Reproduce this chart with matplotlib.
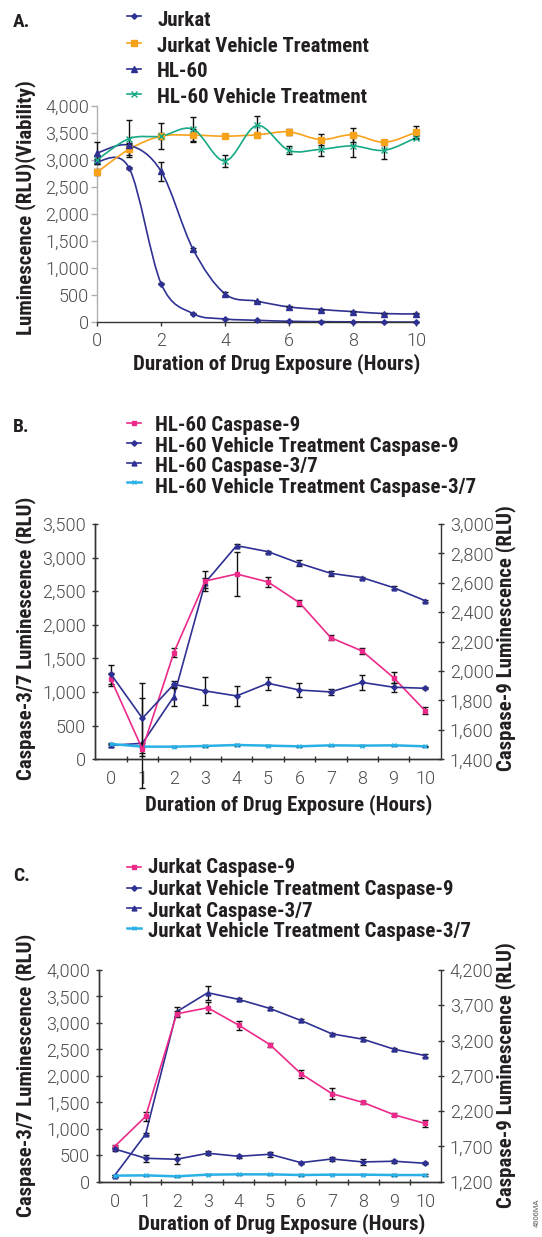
import matplotlib
matplotlib.use("Agg")
import matplotlib.pyplot as plt
from matplotlib.path import Path
from matplotlib.patches import PathPatch
from matplotlib.lines import Line2D
from matplotlib.ticker import FixedLocator, FuncFormatter

# ---------------- data ----------------
hours = list(range(11))

# Panel A (viability, RLU)
a_labels = ["Jurkat", "Jurkat Vehicle Treatment", "HL-60", "HL-60 Vehicle Treatment"]
a_jurkat = [2975, 2850, 715, 160, 62, 37, 19, 12, 8, 5, 4]
a_jurkat_err = [40, 20, 15, 10, 5, 5, 5, 5, 5, 5, 5]
a_jurkat_veh = [2778, 3200, 3442, 3460, 3442, 3467, 3522, 3380, 3467, 3330, 3516]
a_jurkat_veh_err = [60, 100, 240, 120, 20, 20, 60, 110, 135, 50, 110]
a_hl60 = [3132, 3274, 2791, 1352, 527, 391, 285, 236, 198, 161, 155]
a_hl60_err = [200, 50, 170, 30, 30, 10, 10, 10, 10, 10, 10]
a_hl60_veh = [3008, 3398, 3442, 3572, 2983, 3640, 3181, 3200, 3262, 3181, 3417]
a_hl60_veh_err = [60, 350, 60, 220, 115, 175, 75, 130, 200, 160, 30]
a_xticks = [0, 2, 4, 6, 8, 10]
a_yticks = [0, 500, 1000, 1500, 2000, 2500, 3000, 3500, 4000]

# Panel B (HL-60 caspases)
b_labels = ["HL-60 Caspase-9", "HL-60 Vehicle Treatment Caspase-9",
            "HL-60 Caspase-3/7", "HL-60 Vehicle Treatment Caspase-3/7"]
b_casp9 = [1944, 1468, 2125, 2612, 2660, 2606, 2465, 2227, 2136, 1955, 1731]
b_casp9_err = [45, 45, 30, 68, 148, 32, 20, 18, 18, 39, 23]
b_veh_casp9 = [1978, 1679, 1910, 1865, 1831, 1917, 1871, 1858, 1923, 1890, 1883]
b_veh_casp9_err = [64, 238, 23, 96, 66, 45, 50, 18, 50, 32, 7]
b_casp37 = [208, 238, 932, 2628, 3178, 3089, 2915, 2766, 2702, 2553, 2360]
b_casp37_err = [25, 670, 139, 75, 20, 15, 45, 40, 15, 25, 15]
b_veh_casp37 = [228, 188, 188, 198, 213, 203, 193, 208, 203, 208, 193]
b_veh_casp37_err = [15, 10, 10, 10, 10, 10, 10, 10, 10, 10, 10]
b_left_ticks = [0, 500, 1000, 1500, 2000, 2500, 3000, 3500]
b_right_ticks = [1400, 1600, 1800, 2000, 2200, 2400, 2600, 2800, 3000]

# Panel C (Jurkat caspases)
c_labels = ["Jurkat Caspase-9", "Jurkat Vehicle Treatment Caspase-9",
            "Jurkat Caspase-3/7", "Jurkat Vehicle Treatment Caspase-3/7"]
c_casp9 = [1698, 2124, 3579, 3665, 3418, 3143, 2731, 2447, 2323, 2148, 2025]
c_casp9_err = [24, 66, 47, 76, 62, 28, 57, 76, 24, 19, 52]
c_veh_casp9 = [1665, 1532, 1518, 1603, 1560, 1589, 1470, 1522, 1480, 1490, 1461]
c_veh_casp9_err = [24, 47, 71, 28, 19, 38, 14, 33, 43, 19, 14]
c_casp37 = [114, 897, 3211, 3571, 3444, 3274, 3046, 2793, 2692, 2503, 2383]
c_casp37_err = [19, 19, 88, 130, 25, 25, 25, 25, 38, 25, 25]
c_veh_casp37 = [114, 120, 101, 133, 139, 139, 126, 133, 133, 126, 126]
c_veh_casp37_err = [19, 15, 15, 15, 15, 15, 15, 15, 15, 15, 15]
c_left_ticks = [0, 500, 1000, 1500, 2000, 2500, 3000, 3500, 4000]
c_right_ticks = [1200, 1700, 2200, 2700, 3200, 3700, 4200]

xlabel_text = "Duration of Drug Exposure (Hours)"

# ---------------- style ----------------
NAVY = "#2e3192"
ORANGE = "#f7a21b"
TEAL = "#17a985"
PINK = "#ec2a8a"
CYAN = "#29b0e6"
TICKC = "#4a4a4a"
SPINEC = "#333333"

plt.rcParams["font.family"] = ["Roboto", "DejaVu Sans"]
plt.rcParams["font.weight"] = 300
BOLD = dict(family=["Roboto Condensed", "DejaVu Sans"], weight="bold", color="#231f20")
LAB_FS = 15
TICK_FS = 13

W, H = 542, 1237
fig = plt.figure(figsize=(W / 100, H / 100), dpi=100)


def fx(px):
    return px / W


def fy(py):
    return 1 - py / H


def axes_px(l, t, r, b):
    return fig.add_axes([fx(l), fy(b), (r - l) / W, (b - t) / H])


comma = FuncFormatter(lambda v, p: f"{v:,.0f}")


def smooth_path(xs, ys):
    pts = list(zip(xs, ys))
    verts = [pts[0]]
    codes = [Path.MOVETO]
    n = len(pts)
    for i in range(n - 1):
        p0 = pts[i - 1] if i > 0 else pts[i]
        p1 = pts[i]
        p2 = pts[i + 1]
        p3 = pts[i + 2] if i + 2 < n else pts[i + 1]
        c1 = (p1[0] + (p2[0] - p0[0]) / 6, p1[1] + (p2[1] - p0[1]) / 6)
        c2 = (p2[0] - (p3[0] - p1[0]) / 6, p2[1] - (p3[1] - p1[1]) / 6)
        verts += [c1, c2, p2]
        codes += [Path.CURVE4, Path.CURVE4, Path.CURVE4]
    return Path(verts, codes)


def legend_row(y_handle, y_base, x0, x1, xt, color, marker, label, ms=3.5, lw=1.2):
    fig.add_artist(Line2D([fx(x0), fx(x1)], [fy(y_handle)] * 2, transform=fig.transFigure,
                          color=color, lw=lw))
    fig.add_artist(Line2D([fx((x0 + x1) / 2)], [fy(y_handle)], transform=fig.transFigure,
                          color=color, marker=marker, ms=ms, ls="none", mew=1.0))
    fig.text(fx(xt), fy(y_base), label, ha="left", va="baseline", fontsize=LAB_FS, **BOLD)


def style_spines(ax, left_color=SPINEC, right=False):
    for s in ["top"] + ([] if right else ["right"]):
        ax.spines[s].set_visible(False)
    ax.spines["left"].set_color(left_color)
    ax.spines["bottom"].set_color(SPINEC)
    for s in ax.spines.values():
        s.set_linewidth(1.0)


ERR = dict(fmt="none", ecolor="#111111", elinewidth=1.0, capsize=2.2, capthick=1.0)

# ================= Panel A =================
axA = axes_px(97.3, 106, 418, 322.3)
axA.set_xlim(0, 10.05)
axA.set_ylim(0, 4000)
style_spines(axA, left_color="#b0b0b0")
axA.xaxis.set_major_locator(FixedLocator(a_xticks))
axA.yaxis.set_major_locator(FixedLocator(a_yticks))
axA.yaxis.set_major_formatter(comma)
axA.tick_params(axis="y", direction="out", length=4, width=1, color="#b0b0b0",
                labelsize=TICK_FS, labelcolor=TICKC, pad=2)
axA.tick_params(axis="x", direction="out", length=3, width=1, color=SPINEC,
                labelsize=TICK_FS, labelcolor=TICKC, pad=4)

a_series = [
    (a_jurkat, a_jurkat_err, NAVY, "D", 2.8),
    (a_jurkat_veh, a_jurkat_veh_err, ORANGE, "s", 3.8),
    (a_hl60, a_hl60_err, NAVY, "^", 3.8),
    (a_hl60_veh, a_hl60_veh_err, TEAL, "x", 3.8),
]
for vals, err, col, mk, ms in a_series:
    axA.add_patch(PathPatch(smooth_path(hours, vals), facecolor="none", edgecolor=col, lw=1.2,
                            zorder=2))
    axA.errorbar(hours, vals, yerr=err, zorder=3, clip_on=False, **ERR)
    axA.plot(hours, vals, ls="none", marker=mk, ms=ms, color=col, mew=1.0, zorder=4,
             clip_on=False)

axA.set_xlabel(xlabel_text, fontsize=LAB_FS, **BOLD)
axA.xaxis.set_label_coords(fx(277), fy(364), transform=fig.transFigure)
axA.xaxis.label.set_va("center")
axA.set_ylabel("Luminescence (RLU)(Viability)", fontsize=LAB_FS, **BOLD)
axA.yaxis.set_label_coords(fx(25.5), fy(208), transform=fig.transFigure)
axA.yaxis.label.set_va("center")

fig.text(fx(13), fy(26.7), "A.", ha="left", va="baseline", fontsize=14, **BOLD)
a_hy = [15.7, 43.3, 69.3, 94.3]
a_by = [26, 51.7, 77.3, 102.7]
for (vals, err, col, mk, ms), lab, yh, yb in zip(a_series, a_labels, a_hy, a_by):
    legend_row(yh, yb, 127, 141, 157, col, mk, lab, ms=ms)


# ================= Panels B and C =================
def caspase_panel(box, left_lim, right_lim, left_ticks, right_ticks, series, labels,
                  letter, letter_base, hy, by, xt, xlab_pos, ylab_y, tick_off):
    ax = axes_px(*box)
    ax2 = ax.twinx()
    ax.set_xlim(-0.5, 10.5)
    ax.set_ylim(*left_lim)
    ax2.set_ylim(*right_lim)
    style_spines(ax)
    style_spines(ax2, right=True)
    ax2.spines["right"].set_color(SPINEC)
    ax2.spines["right"].set_linewidth(1.0)
    ax.set_xticks(hours)
    ax.set_xticks([h + tick_off for h in hours[:-1]], minor=True)
    ax.tick_params(axis="x", which="major", length=0, labelsize=TICK_FS, labelcolor=TICKC,
                   pad=8)
    ax.tick_params(axis="x", which="minor", direction="inout", length=5, width=1,
                   color=SPINEC)
    ax.yaxis.set_major_locator(FixedLocator(left_ticks))
    ax.yaxis.set_major_formatter(comma)
    ax.tick_params(axis="y", direction="inout", length=5, width=1, color=SPINEC,
                   labelsize=TICK_FS, labelcolor=TICKC, pad=4)
    ax2.yaxis.set_major_locator(FixedLocator(right_ticks))
    ax2.yaxis.set_major_formatter(comma)
    ax2.tick_params(axis="y", direction="inout", length=5, width=1, color=SPINEC,
                    labelsize=TICK_FS, labelcolor=TICKC, pad=4)

    for (vals, err, col, mk, ms, lw, side) in series:
        target = ax2 if side == "right" else ax
        target.errorbar(hours, vals, yerr=err, zorder=3, clip_on=False, **ERR)
        target.plot(hours, vals, color=col, marker=mk, ms=ms, lw=lw, mew=1.0, zorder=4,
                    clip_on=False)

    ax.set_xlabel(xlabel_text, fontsize=LAB_FS, **BOLD)
    ax.xaxis.set_label_coords(fx(xlab_pos[0]), fy(xlab_pos[1]), transform=fig.transFigure)
    ax.xaxis.label.set_va("center")
    ax.set_ylabel("Caspase-3/7 Luminescence (RLU)", fontsize=LAB_FS, **BOLD)
    ax.yaxis.set_label_coords(fx(25.5), fy(ylab_y), transform=fig.transFigure)
    ax.yaxis.label.set_va("center")
    ax2.set_ylabel("Caspase-9 Luminescence (RLU)", fontsize=LAB_FS, rotation=90, **BOLD)
    ax2.yaxis.set_label_coords(fx(506), fy(ylab_y), transform=fig.transFigure)
    ax2.yaxis.label.set_va("center")

    fig.text(fx(13), fy(letter_base), letter, ha="left", va="baseline", fontsize=14, **BOLD)
    for (vals, err, col, mk, ms, lw, side), lab, yh, yb in zip(series, labels, hy, by):
        legend_row(yh, yb, 127, 141, xt, col, mk, lab, ms=ms, lw=lw)
    return ax, ax2


b_series = [
    (b_casp9, b_casp9_err, PINK, "s", 3.5, 1.2, "right"),
    (b_veh_casp9, b_veh_casp9_err, NAVY, "D", 2.8, 1.2, "right"),
    (b_casp37, b_casp37_err, NAVY, "^", 3.5, 1.2, "left"),
    (b_veh_casp37, b_veh_casp37_err, CYAN, "x", 3.5, 1.8, "left"),
]
caspase_panel((95.3, 524, 440.7, 759.3), (0, 3500), (1400, 3000), b_left_ticks, b_right_ticks,
              b_series, b_labels, "B.", 431.7,
              [423.3, 443.3, 462.7, 481.7], [430.7, 451.7, 471.7, 492.7], 155,
              (289, 805), 638, 0.5)

c_series = [
    (c_casp9, c_casp9_err, PINK, "s", 3.5, 1.2, "right"),
    (c_veh_casp9, c_veh_casp9_err, NAVY, "D", 2.8, 1.2, "right"),
    (c_casp37, c_casp37_err, NAVY, "^", 3.5, 1.2, "left"),
    (c_veh_casp37, c_veh_casp37_err, CYAN, "x", 3.5, 1.8, "left"),
]
caspase_panel((99, 970, 440.7, 1181.7), (0, 4000), (1200, 4200), c_left_ticks, c_right_ticks,
              c_series, c_labels, "C.", 880.7,
              [866.7, 887.7, 908.3, 927.7], [873.3, 895, 916.7, 936.7], 148,
              (282, 1224), 1075, 0.5)

fig.text(fx(537.5), fy(1213), "4606MA", rotation=90, ha="center", va="center", fontsize=5.5,
         family=["Liberation Sans", "DejaVu Sans"], weight="normal", color="#555555")

fig.savefig("out.png", dpi=100)
